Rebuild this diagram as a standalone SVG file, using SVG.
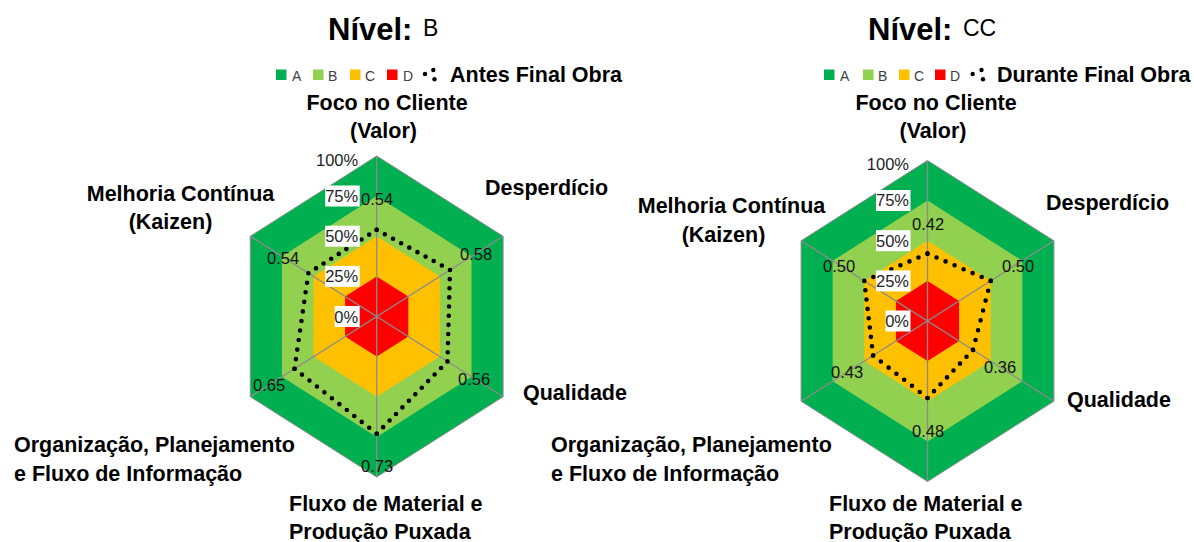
<svg xmlns="http://www.w3.org/2000/svg" xmlns:xlink="http://www.w3.org/1999/xlink" width="1194" height="542" viewBox="0 0 1194 542">
<defs>
<style>
text{font-family:"Liberation Sans",Arial,sans-serif;}
.t{font-size:31px;font-weight:bold;fill:#000;}
.lv{font-size:23px;fill:#000;}
.ax{font-size:21.5px;font-weight:bold;fill:#000;}
.lg{font-size:21.5px;font-weight:bold;fill:#000;}
.lk{font-size:14px;fill:#404040;}
.pc{font-size:16.5px;fill:#1e1e28;text-anchor:end;}
.vl{font-size:16.5px;fill:#111;}
.A{fill:#00B050;}
.B{fill:#92D050;}
.C{fill:#FFC000;}
.D{fill:#FF0000;}
.axis{fill:none;stroke:#8c8c8c;stroke-width:1.3;}
.edge{fill:none;stroke:#8c8c8c;stroke-width:1;}
.box{fill:#fff;}
.dot{fill:none;stroke:#000;stroke-width:4.6;stroke-linecap:round;stroke-dasharray:0 1;}
.ld{fill:#000;}
</style>
<g id="radar">
<polygon class="A" points="0,-160.5 126.4,-80.25 126.4,80.25 0,160.5 -126.4,80.25 -126.4,-80.25"/>
<polygon class="edge" points="0,-160.5 126.4,-80.25 126.4,80.25 0,160.5 -126.4,80.25 -126.4,-80.25"/>
<polygon class="B" points="0,-120.4 94.8,-60.2 94.8,60.2 0,120.4 -94.8,60.2 -94.8,-60.2"/>
<polygon class="C" points="0,-80.25 63.2,-40.1 63.2,40.1 0,80.25 -63.2,40.1 -63.2,-40.1"/>
<polygon class="D" points="0,-40.1 31.6,-20.06 31.6,20.06 0,40.1 -31.6,20.06 -31.6,-20.06"/>
<path class="axis" d="M0,-160.5V160.5M-126.4,-80.25L126.4,80.25M-126.4,80.25L126.4,-80.25"/>
</g>
<g id="scale">
<rect class="box" x="-51.5" y="-131" width="34.5" height="21"/>
<rect class="box" x="-51.5" y="-90.8" width="34.5" height="21"/>
<rect class="box" x="-51.5" y="-50.6" width="34.5" height="21"/>
<rect class="box" x="-42" y="-10.5" width="25" height="21"/>
<text class="pc" x="-18.5" y="-151">100%</text>
<text class="pc" x="-18.5" y="-114.6">75%</text>
<text class="pc" x="-18.5" y="-74.4">50%</text>
<text class="pc" x="-18.5" y="-34.2">25%</text>
<text class="pc" x="-18.5" y="6">0%</text>
</g>
</defs>

<!-- LEFT CHART -->
<g id="chart-left">
<text class="t" x="328" y="40">Nível:</text>
<text class="lv" x="423" y="36">B</text>
<g id="legend-left">
<rect class="A" x="276" y="69.5" width="10.5" height="10.5"/><text class="lk" x="292" y="80.5">A</text>
<rect class="B" x="313" y="69.5" width="10.5" height="10.5"/><text class="lk" x="328" y="80.5">B</text>
<rect class="C" x="350" y="69.5" width="10.5" height="10.5"/><text class="lk" x="365" y="80.5">C</text>
<rect class="D" x="387" y="69.5" width="10.5" height="10.5"/><text class="lk" x="403" y="80.5">D</text>
<circle class="ld" cx="425" cy="74" r="2.2"/><circle class="ld" cx="433.3" cy="70" r="2.2"/><circle class="ld" cx="434.5" cy="79.3" r="2.2"/>
<text class="lg" x="450" y="82">Antes Final Obra</text>
</g>
<use xlink:href="#radar" transform="translate(376.7,316.5)"/>
<g id="data-left">
<path class="dot" pathLength="9" d="M376.7,229.8L450,270"/>
<path class="dot" pathLength="10" d="M450,270L447.5,361.4"/>
<path class="dot" pathLength="11" d="M447.5,361.4L376.7,433.7"/>
<path class="dot" pathLength="11" d="M376.7,433.7L294.5,368.7"/>
<path class="dot" pathLength="10" d="M294.5,368.7L308.4,273.2"/>
<path class="dot" pathLength="9" d="M308.4,273.2L376.7,229.8"/>
</g>
<use xlink:href="#scale" transform="translate(376.7,316.5)"/>
<text class="vl" x="361" y="205">0.54</text>
<text class="vl" x="460" y="260">0.58</text>
<text class="vl" x="458" y="385">0.56</text>
<text class="vl" x="361" y="472">0.73</text>
<text class="vl" x="253" y="391">0.65</text>
<text class="vl" x="267" y="263.5">0.54</text>
<g id="labels-left">
<text class="ax" x="387" y="110" text-anchor="middle">Foco no Cliente</text>
<text class="ax" x="383.5" y="138" text-anchor="middle">(Valor)</text>
<text class="ax" x="485" y="195">Desperdício</text>
<text class="ax" x="523" y="400">Qualidade</text>
<text class="ax" x="180.5" y="201" text-anchor="middle">Melhoria Contínua</text>
<text class="ax" x="170.5" y="229" text-anchor="middle">(Kaizen)</text>
<text class="ax" x="14" y="452">Organização, Planejamento</text>
<text class="ax" x="14" y="481">e Fluxo de Informação</text>
<text class="ax" x="289" y="511">Fluxo de Material e</text>
<text class="ax" x="289" y="539">Produção Puxada</text>
</g>
</g>

<!-- RIGHT CHART -->
<g id="chart-right">
<text class="t" x="868" y="40">Nível:</text>
<text class="lv" x="963" y="36">CC</text>
<g id="legend-right">
<rect class="A" x="824" y="69.5" width="10.5" height="10.5"/><text class="lk" x="840" y="80.5">A</text>
<rect class="B" x="863" y="69.5" width="10.5" height="10.5"/><text class="lk" x="878" y="80.5">B</text>
<rect class="C" x="899" y="69.5" width="10.5" height="10.5"/><text class="lk" x="914" y="80.5">C</text>
<rect class="D" x="935" y="69.5" width="10.5" height="10.5"/><text class="lk" x="950" y="80.5">D</text>
<circle class="ld" cx="972.7" cy="74" r="2.2"/><circle class="ld" cx="981.5" cy="70" r="2.2"/><circle class="ld" cx="983" cy="79.3" r="2.2"/>
<text class="lg" x="997" y="82">Durante Final Obra</text>
</g>
<use xlink:href="#radar" transform="translate(927.5,321)"/>
<g id="data-right">
<path class="dot" pathLength="7" d="M927.5,253.6L990.7,280.9"/>
<path class="dot" pathLength="7" d="M990.7,280.9L973,349.9"/>
<path class="dot" pathLength="7" d="M973,349.9L927.5,398"/>
<path class="dot" pathLength="7" d="M927.5,398L873.1,355.5"/>
<path class="dot" pathLength="8" d="M873.1,355.5L864.3,280.9"/>
<path class="dot" pathLength="7" d="M864.3,280.9L927.5,253.6"/>
</g>
<use xlink:href="#scale" transform="translate(927.5,321)"/>
<text class="vl" x="912" y="230">0.42</text>
<text class="vl" x="1002" y="272">0.50</text>
<text class="vl" x="984" y="373">0.36</text>
<text class="vl" x="912" y="437">0.48</text>
<text class="vl" x="831" y="378">0.43</text>
<text class="vl" x="823" y="272">0.50</text>
<g id="labels-right">
<text class="ax" x="936" y="110" text-anchor="middle">Foco no Cliente</text>
<text class="ax" x="933" y="138" text-anchor="middle">(Valor)</text>
<text class="ax" x="1046" y="210">Desperdício</text>
<text class="ax" x="1067" y="407">Qualidade</text>
<text class="ax" x="731.5" y="213" text-anchor="middle">Melhoria Contínua</text>
<text class="ax" x="723.5" y="242" text-anchor="middle">(Kaizen)</text>
<text class="ax" x="551" y="452">Organização, Planejamento</text>
<text class="ax" x="551" y="481">e Fluxo de Informação</text>
<text class="ax" x="829" y="511">Fluxo de Material e</text>
<text class="ax" x="829" y="539">Produção Puxada</text>
</g>
</g>
</svg>
